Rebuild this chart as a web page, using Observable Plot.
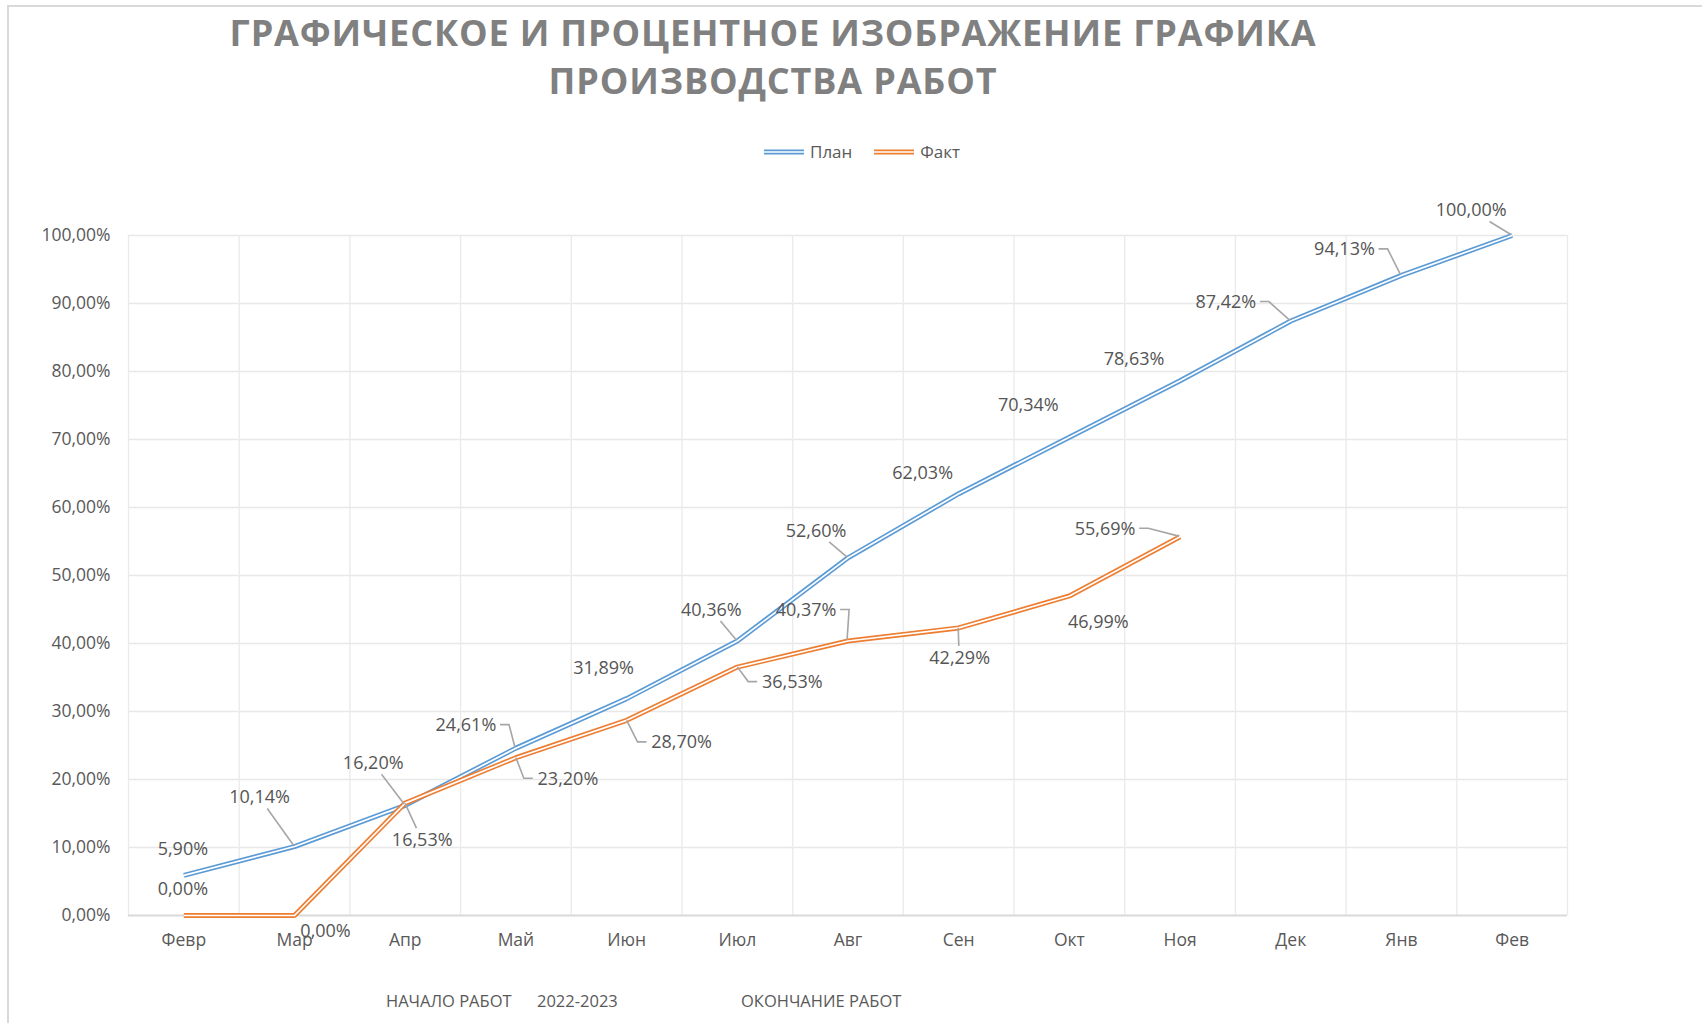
<!DOCTYPE html>
<html>
<head>
<meta charset="utf-8">
<script src="https://cdn.jsdelivr.net/npm/d3@7"></script>
<script src="https://cdn.jsdelivr.net/npm/@observablehq/plot@0.6"></script>
<style>
  html, body { margin: 0; padding: 0; background: #fff; }
  body { width: 1702px; height: 1023px; overflow: hidden; position: relative; font-family: "Open Sans", sans-serif; }
  #frame { position: absolute; left: 7px; top: 5px; width: 1720px; height: 1040px; border-left: 2px solid #d9d9d9; border-top: 2px solid #d9d9d9; }
  #title { position: absolute; left: 0; top: 9px; width: 1546px; text-align: center; font-weight: 700; font-size: 36px; line-height: 48px; color: #808080; letter-spacing: 0.85px; }
  #legend { position: absolute; left: 764px; top: 140px; display: flex; align-items: center; font-size: 17px; color: #595959; }
  #legend .item { display: flex; align-items: center; margin-right: 22px; }
  #legend svg { margin-right: 6px; }
  #chart { position: absolute; left: 0; top: 170px; }
  .cap { position: absolute; top: 989px; font-size: 16.5px; color: #595959; white-space: nowrap; }
</style>
</head>
<body>
<div id="frame"></div>
<div id="title">ГРАФИЧЕСКОЕ И ПРОЦЕНТНОЕ ИЗОБРАЖЕНИЕ ГРАФИКА<br>ПРОИЗВОДСТВА РАБОТ</div>
<div id="legend"></div>
<div id="chart"></div>
<div id="caption"></div>
<script>
// ---- data ----
const months = ["Февр", "Мар", "Апр", "Май", "Июн", "Июл", "Авг", "Сен", "Окт", "Ноя", "Дек", "Янв", "Фев"];
const planValues = [5.90, 10.14, 16.20, 24.61, 31.89, 40.36, 52.60, 62.03, 70.34, 78.63, 87.42, 94.13, 100.00];
const factValues = [0.00, 0.00, 16.53, 23.20, 28.70, 36.53, 40.37, 42.29, 46.99, 55.69];
const yTicks = [0, 10, 20, 30, 40, 50, 60, 70, 80, 90, 100];
const seriesNames = ["План", "Факт"];
const captionParts = ["НАЧАЛО РАБОТ", "2022-2023", "ОКОНЧАНИЕ РАБОТ"];

// ---- label layout (pixel offsets from the point, leader type: "" none, "d" straight, "e" elbow) ----
const planLabelStyle = [
  [-1, -26, ""], [-35, -49, "d"], [-32, -42, "d"], [-50, -23, "e"], [-23, -30, ""],
  [-26, -31, "d"], [-32, -27, "d"], [-36, -20, ""], [-41, -32, ""], [-46, -22, ""],
  [-65, -19, "e"], [-57, -26, "e"], [-41, -25, "d"]
];
const factLabelStyle = [
  [-1, -26, ""], [31, 16, ""], [17, 37, "d"], [52, 21, "e"], [55, 22, "e"],
  [55, 15, "e"], [-42, -31, "e"], [1, 30, "d"], [29, 26, ""], [-75, -8, "e"]
];
const captionLeft = [386, 537, 741];

const colors = { plan: "#5b9bd5", fact: "#ed7d31" };
const fmt = v => v.toFixed(2).replace(".", ",") + "%";

const planData = planValues.map((v, i) => ({ i, v }));
const factData = factValues.map((v, i) => ({ i, v }));

function doubleLine(data, color) {
  return [
    Plot.line(data, { x: "i", y: "v", stroke: color, strokeWidth: 5, strokeLinecap: "butt", strokeLinejoin: "miter" }),
    Plot.line(data, { x: "i", y: "v", stroke: "white", strokeWidth: 1.7, strokeLinecap: "butt", strokeLinejoin: "miter" })
  ];
}
function labelMarks(data, style) {
  return data.map((d, k) => Plot.text([d], {
    x: "i", y: "v", text: e => fmt(e.v),
    dx: style[k][0], dy: style[k][1],
    fontSize: 18, fill: "#555555"
  }));
}

const gridX = d3.range(months.length + 1).map(i => i - 0.5);

const chart = Plot.plot({
  width: 1702,
  height: 800,
  marginLeft: 128,
  marginRight: 135,
  marginTop: 65,
  marginBottom: 55,
  style: { fontFamily: "'Open Sans', sans-serif", fontSize: "17.5px", color: "#595959", background: "transparent", overflow: "visible" },
  x: {
    type: "linear",
    domain: [-0.5, months.length - 0.5],
    ticks: d3.range(months.length),
    tickFormat: i => months[i],
    tickSize: 0,
    tickPadding: 18,
    label: null
  },
  y: {
    domain: [0, 100],
    ticks: yTicks,
    tickFormat: fmt,
    tickSize: 0,
    tickPadding: 18,
    label: null
  },
  marks: [
    Plot.ruleY(yTicks.filter(t => t > 0), { stroke: "#e8e8e8", strokeWidth: 1.4 }),
    Plot.ruleX(gridX, { stroke: "#ebebeb", strokeWidth: 1.4 }),
    Plot.ruleY([0], { stroke: "#d9d9d9", strokeWidth: 2 }),
    ...doubleLine(planData, colors.plan),
    ...doubleLine(factData, colors.fact),
    ...labelMarks(planData, planLabelStyle),
    ...labelMarks(factData, factLabelStyle)
  ]
});
document.getElementById("chart").appendChild(chart);

// ---- leader lines, positioned through Plot's scales ----
const sx = chart.scale("x"), sy = chart.scale("y");
const fx = sx.apply ? v => sx.apply(v) : d3.scaleLinear(sx.domain, sx.range);
const fy = sy.apply ? v => sy.apply(v) : d3.scaleLinear(sy.domain, sy.range);
const g = d3.select(chart).append("g").attr("stroke", "#a6a6a6").attr("stroke-width", 1.6).attr("fill", "none").attr("stroke-linejoin", "miter");
function leaders(data, style) {
  data.forEach((d, k) => {
    const [dx, dy, type] = style[k];
    if (!type) return;
    const px = fx(d.i), py = fy(d.v);
    const cx = px + dx, cy = py + dy;
    const hw = fmt(d.v).length * 5.1 + 4, hh = 11.5;
    const vx = px - cx, vy = py - cy;
    if (type === "e") {
      const side = Math.sign(vx);
      const x0 = cx + side * hw, x1 = x0 + side * 9;
      g.append("path").attr("d", `M${x0},${cy}H${x1}L${px - vx * 0.01},${py - vy * 0.02}`);
    } else {
      const t = Math.min(vx === 0 ? Infinity : hw / Math.abs(vx), vy === 0 ? Infinity : hh / Math.abs(vy));
      if (t >= 1) return;
      g.append("path").attr("d", `M${cx + vx * t},${cy + vy * t}L${px - vx * 0.02},${py - vy * 0.02}`);
    }
  });
}
leaders(planData, planLabelStyle);
leaders(factData, factLabelStyle);

// ---- legend ----
const legend = d3.select("#legend");
[colors.plan, colors.fact].forEach((c, k) => {
  const item = legend.append("div").attr("class", "item");
  const s = item.append("svg").attr("width", 40).attr("height", 10);
  s.append("line").attr("x1", 0).attr("x2", 40).attr("y1", 5).attr("y2", 5).attr("stroke", c).attr("stroke-width", 5);
  s.append("line").attr("x1", 0).attr("x2", 40).attr("y1", 5).attr("y2", 5).attr("stroke", "white").attr("stroke-width", 1.7);
  item.append("span").text(seriesNames[k]);
});

// ---- caption ----
captionParts.forEach((t, k) => {
  d3.select("#caption").append("div").attr("class", "cap").style("left", captionLeft[k] + "px").text(t);
});
</script>
</body>
</html>
